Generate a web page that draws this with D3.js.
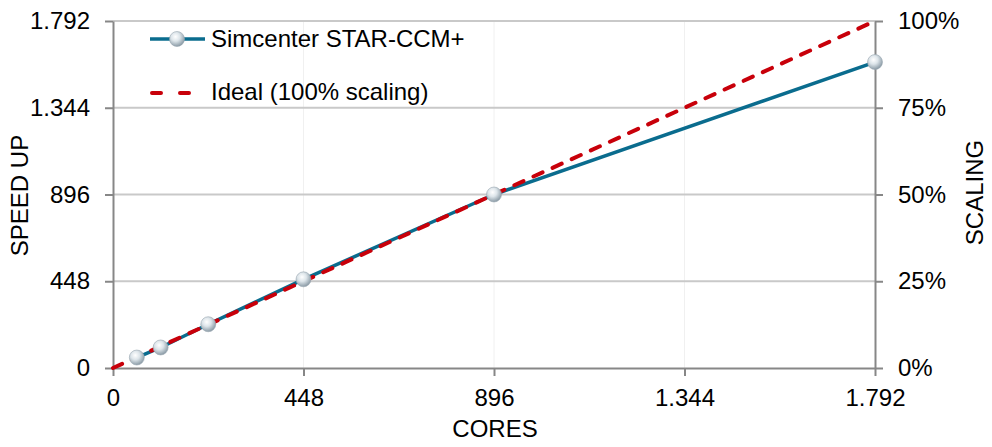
<!DOCTYPE html>
<html>
<head>
<meta charset="utf-8">
<script src="https://cdn.jsdelivr.net/npm/d3@7"></script>
<style>
  body { margin: 0; background: #fff; }
  svg { display: block; font-family: "Liberation Sans", Arial, sans-serif; }
</style>
</head>
<body>
<svg width="992" height="447"></svg>
<script>
'use strict';

// data
const cores = [56, 112, 224, 448, 896, 1792];
const speedUp = [54, 106, 226, 458, 896, 1580];
const idealCores = [0, 1792];
const xTicks = [0, 448, 896, 1344, 1792];
const yTicks = [0, 448, 896, 1344, 1792];
const pctTicks = [0, 0.25, 0.5, 0.75, 1];
const seriesNames = ["Simcenter STAR-CCM+", "Ideal (100% scaling)"];

const W = 992, H = 447;
const m = { top: 21, right: 117, bottom: 79, left: 113 };
const iw = W - m.left - m.right;
const ih = H - m.top - m.bottom;

const blue = "#0a6c8e";
const red = "#c8000a";
const axisGrey = "#878787";
const fs = "24px";
const fmt = d => d3.format(",")(d).replace(/,/g, ".");

const svg = d3.select("svg");
const defs = svg.append("defs");
const grad = defs.append("radialGradient")
  .attr("id", "ball").attr("cx", "40%").attr("cy", "35%").attr("r", "65%");
grad.append("stop").attr("offset", "0%").attr("stop-color", "#ffffff");
grad.append("stop").attr("offset", "45%").attr("stop-color", "#dde5ea");
grad.append("stop").attr("offset", "100%").attr("stop-color", "#8b9ba6");

const g = svg.append("g").attr("transform", `translate(${m.left},${m.top})`);

const x = d3.scaleLinear().domain([0, 1792]).range([0, iw]);
const y = d3.scaleLinear().domain([0, 1792]).range([ih, 0]);
const yr = d3.scaleLinear().domain([0, 1]).range([ih, 0]);

// grid
g.selectAll(".vgrid").data(xTicks.slice(1, -1)).enter().append("line")
  .attr("x1", d => x(d)).attr("x2", d => x(d))
  .attr("y1", 0).attr("y2", ih)
  .attr("stroke", "#f0f0f0").attr("stroke-width", 1);
g.selectAll(".hgrid").data(yTicks.slice(1)).enter().append("line")
  .attr("x1", 0).attr("x2", iw)
  .attr("y1", d => y(d)).attr("y2", d => y(d))
  .attr("stroke", "#c9c9c9").attr("stroke-width", 2);

// axes
function styleAxis(sel) {
  sel.selectAll("path,line").attr("stroke", axisGrey).attr("stroke-width", 2);
  sel.selectAll("text").attr("fill", "#000").style("font-size", fs);
}

g.append("g").attr("transform", `translate(0,${ih})`)
  .call(d3.axisBottom(x).tickValues(xTicks).tickFormat(fmt).tickSizeOuter(0).tickSizeInner(8).tickPadding(13))
  .call(styleAxis);

g.append("g")
  .call(d3.axisLeft(y).tickValues(yTicks).tickFormat(fmt).tickSizeOuter(0).tickSizeInner(8).tickPadding(15))
  .call(styleAxis);

g.append("g").attr("transform", `translate(${iw},0)`)
  .call(d3.axisRight(yr).tickValues(pctTicks).tickFormat(d3.format(".0%")).tickSizeOuter(0).tickSizeInner(8).tickPadding(15))
  .call(styleAxis);

// titles
svg.append("text").attr("x", m.left + iw / 2 + 1).attr("y", 437)
  .attr("text-anchor", "middle").style("font-size", fs).text("CORES");
svg.append("text").attr("transform", `translate(28,${m.top + ih / 2 + 1}) rotate(-90)`)
  .attr("text-anchor", "middle").style("font-size", fs).text("SPEED UP");
svg.append("text").attr("transform", `translate(983,${m.top + ih / 2 - 2}) rotate(-90)`)
  .attr("text-anchor", "middle").style("font-size", fs).text("SCALING");

// series
const line = d3.line().x(d => x(d[0])).y(d => y(d[1]));
const simData = cores.map((c, i) => [c, speedUp[i]]);
const idealData = idealCores.map(c => [c, c]);

g.append("path").datum(simData).attr("d", line)
  .attr("fill", "none").attr("stroke", blue).attr("stroke-width", 3.5)
  .attr("stroke-linejoin", "round");

g.append("path").datum(idealData).attr("d", line)
  .attr("fill", "none").attr("stroke", red).attr("stroke-width", 4)
  .attr("stroke-dasharray", "10,11").attr("stroke-linecap", "round");

g.selectAll(".pt").data(simData).enter().append("circle")
  .attr("cx", d => x(d[0])).attr("cy", d => y(d[1])).attr("r", 7.5)
  .attr("fill", "url(#ball)").attr("stroke", "#9aa8b1").attr("stroke-width", 0.6);

// legend
const lg = svg.append("g").attr("transform", "translate(150,0)");
lg.append("line").attr("x1", 0).attr("x2", 55).attr("y1", 39).attr("y2", 39)
  .attr("stroke", blue).attr("stroke-width", 3.5);
lg.append("circle").attr("cx", 27).attr("cy", 39).attr("r", 7.5)
  .attr("fill", "url(#ball)").attr("stroke", "#9aa8b1").attr("stroke-width", 0.6);
lg.append("text").attr("x", 61).attr("y", 38.5).attr("dy", "0.35em")
  .style("font-size", fs).text(seriesNames[0]);
lg.append("line").attr("x1", 2).attr("x2", 42).attr("y1", 93).attr("y2", 93)
  .attr("stroke", red).attr("stroke-width", 4)
  .attr("stroke-dasharray", "9,19").attr("stroke-linecap", "round");
lg.append("text").attr("x", 61).attr("y", 92).attr("dy", "0.35em")
  .style("font-size", fs).text(seriesNames[1]);
</script>
</body>
</html>
